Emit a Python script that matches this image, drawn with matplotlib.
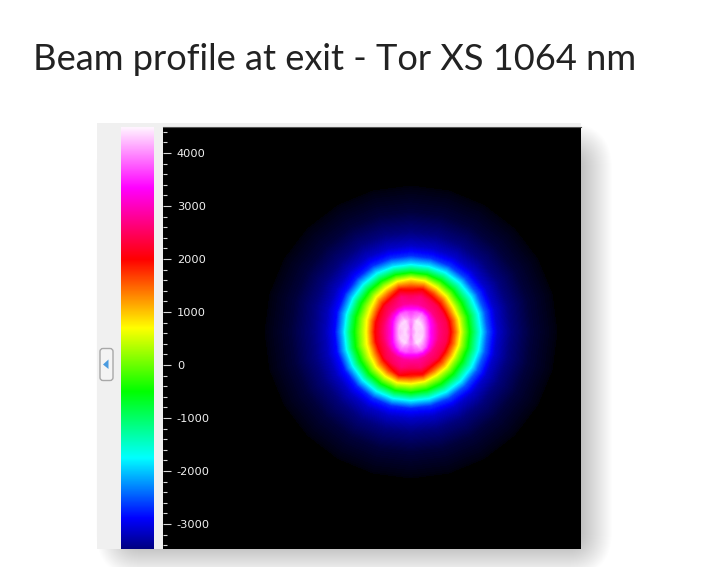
"""
plot.py
-------

Beam profile at exit: false colour spot next to its intensity scale.
Field values are read off the picture along spokes from the beam centre.
"""

import matplotlib
matplotlib.use("Agg")

import matplotlib.pyplot as plt
import numpy as np
from matplotlib.colors import LinearSegmentedColormap, Normalize
from matplotlib.patches import FancyBboxPatch, Polygon, Rectangle
from matplotlib.ticker import MultipleLocator

plt.rcParams["axes.unicode_minus"] = False

TITLE = "Beam profile at exit - Tor XS 1064 nm"

# Colour scale, value -> colour
scale_values = [-4200, -3470, -2900, -1755, -500, 700, 2000, 3350, 4490]
scale_colours = ["#000000", "#000082", "#0000ff", "#00ffff", "#00ff00",
                 "#ffff00", "#ff0000", "#ff00ff", "#fff4ff"]

# Distance from the beam centre (px) and spoke direction (degrees)
radii = [0, 6, 12, 20, 28, 36, 44, 52, 60, 68, 76, 86, 100, 120, 146]
angles = [0, 15, 30, 45, 60, 75, 90, 105, 120, 135, 150, 165,
          180, 195, 210, 225, 240, 255, 270, 285, 300, 315, 330, 345]

# One row per spoke, one column per radius
profiles = [
    [3850, 4350, 4250, 3250, 2650, 2400, 1450, 250, -700, -1600, -2500, -3130, -3500, -3870, -4130],
    [3850, 4350, 4300, 3350, 2650, 2400, 1400, 250, -700, -1620, -2520, -3130, -3500, -3870, -4130],
    [3850, 4350, 4350, 3500, 2650, 2350, 1300, 200, -750, -1650, -2550, -3130, -3500, -3870, -4130],
    [3850, 4300, 4400, 3750, 2700, 2400, 1500, 350, -700, -1700, -2600, -3130, -3500, -3870, -4130],
    [3850, 4200, 4400, 3900, 2750, 2450, 1650, 500, -650, -1750, -2650, -3130, -3500, -3870, -4130],
    [3850, 3950, 4100, 3750, 2800, 2600, 1950, 750, -650, -1850, -2700, -3150, -3500, -3870, -4130],
    [3850, 3850, 3900, 3600, 2800, 2450, 1750, 800, -700, -1900, -2700, -3150, -3500, -3870, -4130],
    [3850, 3950, 4100, 3750, 2800, 2600, 1900, 650, -700, -1900, -2700, -3150, -3500, -3870, -4130],
    [3850, 4200, 4350, 3800, 2700, 2350, 1450, 400, -750, -1850, -2700, -3160, -3500, -3870, -4130],
    [3850, 4300, 4350, 3600, 2650, 2250, 1300, 250, -800, -1900, -2750, -3180, -3520, -3870, -4130],
    [3850, 4350, 4300, 3400, 2550, 2050, 950, 50, -850, -1950, -2800, -3200, -3520, -3870, -4130],
    [3850, 4350, 4200, 3200, 2500, 2000, 850, 0, -880, -2000, -2850, -3230, -3520, -3870, -4130],
    [3850, 4350, 4150, 3100, 2500, 1950, 750, -50, -900, -2050, -2900, -3250, -3540, -3870, -4130],
    [3850, 4350, 4200, 3200, 2500, 2000, 850, 50, -850, -1980, -2850, -3230, -3520, -3870, -4130],
    [3850, 4350, 4300, 3400, 2550, 2050, 1000, 100, -800, -1900, -2800, -3200, -3520, -3870, -4130],
    [3850, 4300, 4350, 3600, 2650, 2300, 1350, 300, -700, -1820, -2750, -3180, -3520, -3870, -4130],
    [3850, 4200, 4350, 3800, 2750, 2450, 1650, 500, -600, -1750, -2700, -3160, -3500, -3870, -4130],
    [3850, 3950, 4100, 3750, 2800, 2600, 2050, 700, -500, -1730, -2720, -3150, -3500, -3870, -4130],
    [3850, 3850, 3900, 3600, 2800, 2450, 1800, 600, -500, -1750, -2750, -3150, -3500, -3870, -4130],
    [3850, 3950, 4100, 3750, 2800, 2550, 1900, 500, -550, -1700, -2680, -3140, -3500, -3870, -4130],
    [3850, 4200, 4400, 3900, 2750, 2400, 1500, 350, -600, -1650, -2600, -3130, -3500, -3870, -4130],
    [3850, 4300, 4400, 3750, 2700, 2400, 1450, 300, -650, -1620, -2550, -3130, -3500, -3870, -4130],
    [3850, 4350, 4350, 3500, 2650, 2350, 1350, 200, -700, -1600, -2500, -3130, -3500, -3870, -4130],
    [3850, 4350, 4300, 3350, 2650, 2400, 1400, 250, -700, -1600, -2500, -3130, -3500, -3870, -4130],
]

W, H = 711, 567
PANEL_LEFT, PANEL_TOP = 97, 123
PLOT_LEFT, PLOT_RIGHT, PLOT_TOP, PLOT_BOTTOM = 163, 581, 127, 549
BAR_LEFT, BAR_RIGHT = 121, 154
CENTRE_X, CENTRE_Y = 411, 332

norm = Normalize(scale_values[0], scale_values[-1])
stops = [(norm(v), c) for v, c in zip(scale_values, scale_colours)]
cmap = LinearSegmentedColormap.from_list("beam", stops, N=1024)


def px_axes(fig, left, top, right, bottom):
    """Axes placed by pixel box, measured from the top left of the figure."""
    return fig.add_axes([left / W, 1 - bottom / H, (right - left) / W, (bottom - top) / H])


fig = plt.figure(figsize=(W / 100, H / 100), dpi=100, facecolor="white")

# Page layer: title, drop shadow, grey panel, collapse button
page = px_axes(fig, 0, 0, W, H)
page.set_xlim(0, W)
page.set_ylim(H, 0)
page.axis("off")

page.text(33, 70, TITLE, fontsize=26.1, family="Lato", color="#222222", va="baseline")

# Soft shadow: stacked rounded boxes, from widest to narrowest
for grow in range(22, -23, -1):
    page.add_patch(FancyBboxPatch((118 - grow, 145 - grow), 472 + 2 * grow, 410 + 2 * grow,
                                  boxstyle=f"round,pad=0,rounding_size={grow + 24}",
                                  facecolor="black", edgecolor="none", alpha=0.008))

page.add_patch(Rectangle((PANEL_LEFT, PANEL_TOP), PLOT_RIGHT - PANEL_LEFT, PLOT_BOTTOM - PANEL_TOP,
                         facecolor="#f0f0f0", edgecolor="none"))

page.add_patch(FancyBboxPatch((100, 348.5), 13, 32, boxstyle="round,pad=0,rounding_size=3",
                              facecolor="#f4f4f4", edgecolor="#a8a8a8", linewidth=1.0))
page.add_patch(Polygon([[103, 364.5], [108.5, 359.5], [108.5, 369]], facecolor="#4a9be0",
                       edgecolor="none"))

# Colour bar
bar = px_axes(fig, BAR_LEFT, PLOT_TOP, BAR_RIGHT, PLOT_BOTTOM)
ramp = np.linspace(scale_values[1], scale_values[-1], 512).reshape(-1, 1)
bar.imshow(ramp, cmap=cmap, norm=norm, aspect="auto", origin="lower")
bar.axis("off")

# Beam field
ax = px_axes(fig, PLOT_LEFT, PLOT_TOP, PLOT_RIGHT, PLOT_BOTTOM)
ax.set_facecolor("black")
ax.set_xlim(PLOT_LEFT - CENTRE_X, PLOT_RIGHT - CENTRE_X)
ax.set_ylim(CENTRE_Y - PLOT_BOTTOM, CENTRE_Y - PLOT_TOP)

field = np.array(profiles + [profiles[0]], dtype=float)
theta = np.radians(angles + [360])
rr, tt = np.meshgrid(radii, theta)
levels = np.linspace(scale_values[0], scale_values[-1], 400)
ax.contourf(rr * np.cos(tt), rr * np.sin(tt), field, levels=levels, cmap=cmap, norm=norm)
ax.set_xticks([])
ax.set_yticks([])
for spine in ax.spines.values():
    spine.set_visible(False)

# Scale ticks sit inside the black area, on the value axis (lengths in points)
scale = ax.twinx()
scale.set_ylim(-3470, 4490)
scale.yaxis.tick_left()
scale.yaxis.set_major_locator(MultipleLocator(1000))
scale.yaxis.set_minor_locator(MultipleLocator(200))
scale.tick_params(axis="y", which="major", direction="in", length=5.8, width=0.8, color="#d8d8d8",
                  labelcolor="#f0f0f0", labelsize=8.2, pad=-10)
scale.tick_params(axis="y", which="minor", direction="in", length=3, width=0.8, color="#d8d8d8")
for label in scale.get_yticklabels():
    label.set_horizontalalignment("left")
for side, spine in scale.spines.items():
    spine.set_visible(side == "top")
    spine.set_color("#555555")

fig.savefig("out.png", dpi=100)
plt.close(fig)
